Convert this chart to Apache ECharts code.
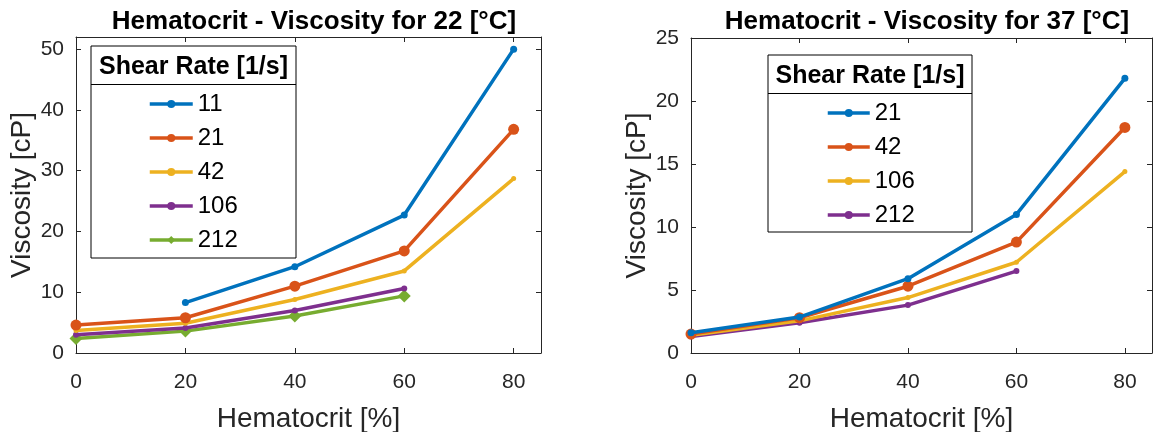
<!DOCTYPE html>
<html>
<head>
<meta charset="utf-8">
<script src="https://cdn.jsdelivr.net/npm/echarts@6/dist/echarts.min.js"></script>
<style>
html,body{margin:0;padding:0;background:#fff;}
#c{width:1155px;height:432px;}
</style>
</head>
<body>
<div id="c"></div>
<script>
// ---- data ----
const hematocrit = [0, 20, 40, 60, 80];
const xTicks = [0, 20, 40, 60, 80];

const titleLeft = 'Hematocrit - Viscosity for 22 [°C]';
const titleRight = 'Hematocrit - Viscosity for 37 [°C]';
const xName = 'Hematocrit [%]';
const yName = 'Viscosity [cP]';
const legendTitle = 'Shear Rate [1/s]';

// 22 °C
const rates22 = ['11', '21', '42', '106', '212'];
const visc22_11  = [null, 8.3, 14.2, 22.7, 50.0];
const visc22_21  = [4.6, 5.8, 11.0, 16.8, 36.8];
const visc22_42  = [3.7, 4.9, 8.8, 13.5, 28.7];
const visc22_106 = [3.0, 4.1, 7.0, 10.6, null];
const visc22_212 = [2.4, 3.6, 6.1, 9.4, null];

// 37 °C
const rates37 = ['21', '42', '106', '212'];
const visc37_21  = [1.6, 2.85, 5.9, 11.0, 21.8];
const visc37_42  = [1.5, 2.8, 5.3, 8.8, 17.9];
const visc37_106 = [1.4, 2.55, 4.4, 7.2, 14.4];
const visc37_212 = [1.3, 2.4, 3.8, 6.5, null];

// ---- styles ----
const FONT = 'Liberation Sans, Arial, sans-serif';
const AX = '#262626';
const colors = ['#0072BD', '#D95319', '#EDB120', '#7E2F8E', '#77AC30'];
const symbols = [
  {symbol: 'circle', size: 7},
  {symbol: 'circle', size: 11},
  {symbol: 'circle', size: 5},
  {symbol: 'circle', size: 6},
  {symbol: 'diamond', size: 13}
];

function pairs(vals) {
  const out = [];
  hematocrit.forEach((h, i) => { if (vals[i] !== null) out.push([h, vals[i]]); });
  return out;
}

function mkSeries(prefix, names, arrays, gi) {
  return names.map((n, i) => ({
    name: prefix + n,
    type: 'line',
    xAxisIndex: gi, yAxisIndex: gi,
    data: pairs(arrays[i]),
    symbol: symbols[i].symbol,
    symbolSize: symbols[i].size,
    showSymbol: true,
    color: colors[i],
    lineStyle: {width: 3.5, color: colors[i]},
    itemStyle: {color: colors[i]},
    z: 10 - i,
    animation: false
  }));
}

const series = [].concat(
  mkSeries('L', rates22, [visc22_11, visc22_21, visc22_42, visc22_106, visc22_212], 0),
  mkSeries('R', rates37, [visc37_21, visc37_42, visc37_106, visc37_212], 1)
);

function xMain(gi) {
  return {
    type: 'value', gridIndex: gi, min: 0, max: 85, interval: 20, position: 'bottom',
    name: xName, nameLocation: 'middle', nameGap: 52,
    nameTextStyle: {fontFamily: FONT, fontSize: 28, color: AX},
    axisLine: {show: true, onZero: false, lineStyle: {color: AX, width: 1}},
    axisTick: {show: true, inside: true, length: 5, lineStyle: {color: AX}},
    axisLabel: {show: true, fontFamily: FONT, fontSize: 21, color: AX, margin: 19, showMaxLabel: false},
    splitLine: {show: false}
  };
}
function xTop(gi) {
  return {
    type: 'value', gridIndex: gi, min: 0, max: 85, interval: 20, position: 'top',
    axisLine: {show: true, onZero: false, lineStyle: {color: AX, width: 1}},
    axisTick: {show: true, inside: true, length: 5, lineStyle: {color: AX}},
    axisLabel: {show: false}, splitLine: {show: false}
  };
}
function yMain(gi, max, interval) {
  return {
    type: 'value', gridIndex: gi, min: 0, max: max, interval: interval, position: 'left',
    name: yName, nameLocation: 'middle', nameGap: 37, nameRotate: 90,
    nameTextStyle: {fontFamily: FONT, fontSize: 28, color: AX},
    axisLine: {show: true, onZero: false, lineStyle: {color: AX, width: 1}},
    axisTick: {show: true, inside: true, length: 5, lineStyle: {color: AX}},
    axisLabel: {show: true, fontFamily: FONT, fontSize: 21, color: AX, margin: 12,
      formatter: v => (v % interval === 0 ? String(v) : '')},
    splitLine: {show: false}
  };
}
function yRight(gi, max, interval) {
  return {
    type: 'value', gridIndex: gi, min: 0, max: max, interval: interval, position: 'right',
    axisLine: {show: true, onZero: false, lineStyle: {color: AX, width: 1}},
    axisTick: {show: true, inside: true, length: 5, lineStyle: {color: AX}},
    axisLabel: {show: false}, splitLine: {show: false}
  };
}

function mkLegend(prefix, names, left, top, w) {
  return {
    orient: 'vertical', left: left, top: top, z: 80,
    data: names.map(n => prefix + n),
    formatter: n => n.slice(1),
    itemWidth: w, itemHeight: 10, itemGap: 10,
    padding: 0,
    lineStyle: {width: 3.5},
    textStyle: {fontFamily: FONT, fontSize: 24, color: '#000', lineHeight: 24, padding: [0, 0, 0, 0]},
    selectedMode: false
  };
}

const option = {
  backgroundColor: '#fff',
  animation: false,
  title: [
    {text: titleLeft, left: 309, top: 4, textAlign: 'center',
      textStyle: {fontFamily: FONT, fontSize: 26, fontWeight: 'bold', color: '#000'}},
    {text: titleRight, left: 922, top: 4, textAlign: 'center',
      textStyle: {fontFamily: FONT, fontSize: 26, fontWeight: 'bold', color: '#000'}}
  ],
  grid: [
    {left: 76, top: 37, width: 465, height: 316, containLabel: false, outerBoundsMode: 'none'},
    {left: 691, top: 38, width: 461, height: 315, containLabel: false, outerBoundsMode: 'none'}
  ],
  xAxis: [xMain(0), xMain(1), xTop(0), xTop(1)],
  yAxis: [yMain(0, 52, 10), yMain(1, 25, 5), yRight(0, 52, 10), yRight(1, 25, 5)],
  legend: [
    mkLegend('L', rates22, 148, 92, 43),
    mkLegend('R', rates37, 826, 101, 42)
  ],
  graphic: [
    {type: 'rect', shape: {x: 91, y: 46, width: 205, height: 212}, z: 50,
      style: {fill: '#fff', stroke: '#000', lineWidth: 1}},
    {type: 'line', shape: {x1: 91, y1: 84.5, x2: 296, y2: 84.5}, z: 51,
      style: {stroke: '#000', lineWidth: 1}},
    {type: 'text', x: 193.5, y: 67, z: 52,
      style: {text: legendTitle, font: 'bold 25px ' + FONT, fill: '#000', textAlign: 'center', textVerticalAlign: 'middle'}},
    {type: 'rect', shape: {x: 768, y: 55, width: 204, height: 177}, z: 50,
      style: {fill: '#fff', stroke: '#000', lineWidth: 1}},
    {type: 'line', shape: {x1: 768, y1: 93.5, x2: 972, y2: 93.5}, z: 51,
      style: {stroke: '#000', lineWidth: 1}},
    {type: 'text', x: 870, y: 76, z: 52,
      style: {text: legendTitle, font: 'bold 25px ' + FONT, fill: '#000', textAlign: 'center', textVerticalAlign: 'middle'}}
  ],
  series: series
};

const chart = echarts.init(document.getElementById('c'), null, {renderer: 'canvas'});
chart.setOption(option);
</script>
</body>
</html>
